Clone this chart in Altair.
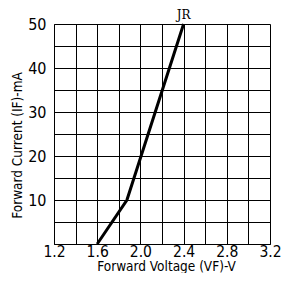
import altair as alt
import pandas as pd

# curve data
vf = [1.6, 1.875, 2.4]
if_ma = [0, 10, 50]

# axis ticks
x_grid = [1.2, 1.4, 1.6, 1.8, 2.0, 2.2, 2.4, 2.6, 2.8, 3.0, 3.2]
x_labels = ["1.2", "1.6", "2.0", "2.4", "2.8", "3.2"]
y_grid = [0, 5, 10, 15, 20, 25, 30, 35, 40, 45, 50]
y_labels = ["10", "20", "30", "40", "50"]

curve_label = "JR"
label_x = [2.4]
label_y = [50]

df = pd.DataFrame({"vf": vf, "current": if_ma})
lab = pd.DataFrame({"vf": label_x, "current": label_y, "t": [curve_label]})

tick_font = "DejaVu Sans Condensed"
title_font = "DejaVu Sans Condensed"

x_enc = alt.X(
    "vf:Q",
    scale=alt.Scale(domain=[1.2, 3.2], nice=False, zero=False),
    axis=alt.Axis(
        values=x_grid,
        format=".1f",
        labelExpr="indexof(" + str(x_labels) + ", datum.label) >= 0 ? datum.label : ''",
        title="Forward Voltage (VF)-V",
        grid=True, gridColor="black", gridOpacity=1, gridWidth=1,
        ticks=False, domainColor="black", domainWidth=1,
        labelFont=tick_font, labelFontSize=15.5, labelColor="black",
        labelPadding=0, labelFlush=False, labelOverlap=False,
        titleFont=title_font, titleFontSize=13.5, titleFontWeight="normal",
        titleColor="black", titleX=112, titleY=22.5, titleBaseline="middle",
    ),
)
y_enc = alt.Y(
    "current:Q",
    scale=alt.Scale(domain=[0, 50], nice=False),
    axis=alt.Axis(
        values=y_grid,
        labelExpr="indexof(" + str(y_labels) + ", datum.label) >= 0 ? datum.label : ''",
        title="Forward Current (IF)-mA",
        grid=True, gridColor="black", gridOpacity=1, gridWidth=1,
        ticks=False, domainColor="black", domainWidth=1,
        labelFont=tick_font, labelFontSize=16, labelColor="black",
        labelPadding=8, labelFlush=False, labelOverlap=False, labelBaseline="middle",
        titleFont=title_font, titleFontSize=13.5, titleFontWeight="normal",
        titleColor="black", titleX=-37, titleY=121, titleAngle=-90,
        titleBaseline="middle",
    ),
)

line = alt.Chart(df).mark_line(color="black", strokeWidth=3).encode(x=x_enc, y=y_enc)
text = alt.Chart(lab).mark_text(
    font="DejaVu Serif", fontSize=12, color="black", dy=-9
).encode(x=x_enc, y=y_enc, text="t:N")

chart = (
    alt.layer(line, text)
    .properties(
        width=216, height=220,
        autosize="none",
        padding={"left": 46, "top": 16, "right": 12, "bottom": 29},
    )
    .configure_view(stroke="black", strokeWidth=1)
    .configure(background="white")
)

chart.save("out.html", embed_options={"renderer": "svg", "actions": False})
